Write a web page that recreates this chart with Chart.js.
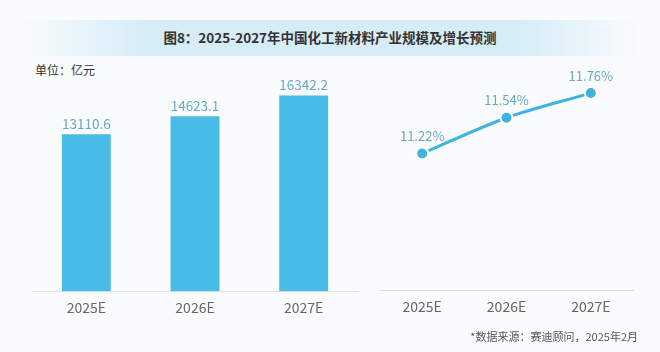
<!DOCTYPE html>
<html>
<head>
<meta charset="utf-8">
<script src="https://cdn.jsdelivr.net/npm/chart.js@4.4.1/dist/chart.umd.min.js"></script>
<style>
    html, body { margin: 0; padding: 0; }
    body {
        width: 660px;
        height: 352px;
        position: relative;
        overflow: hidden;
        background: #f9fbfd;
        font-family: "Noto Sans CJK SC", "Noto Sans", sans-serif;
    }
    .banner {
        position: absolute;
        left: 20px; top: 20px;
        width: 620px; height: 36px;
        background: linear-gradient(90deg, rgba(210,234,246,0) 0%, #d6ecf7 20%, #d6ecf7 80%, rgba(210,234,246,0) 100%);
    }
    .title {
        position: absolute;
        left: 0; top: 19px;
        width: 660px; height: 36px;
        line-height: 36px;
        text-align: center;
        font-size: 13.5px;
        font-weight: bold;
        color: #333;
    }
    .unit {
        position: absolute;
        left: 35px; top: 61px;
        font-size: 12px;
        color: #333;
    }
    .source {
        position: absolute;
        right: 22px; top: 328px;
        font-size: 11px;
        color: #555;
    }
    #barBox { position: absolute; left: 0; top: 0; width: 370px; height: 352px; }
    #lineBox { position: absolute; left: 370px; top: 0; width: 290px; height: 352px; }
</style>
</head>
<body>
<div class="banner"></div>
<div class="title">图8：2025-2027年中国化工新材料产业规模及增长预测</div>
<div class="unit">单位：亿元</div>
<div id="barBox"><canvas id="barChart"></canvas></div>
<div id="lineBox"><canvas id="lineChart"></canvas></div>
<div class="source">*数据来源：赛迪顾问，2025年2月</div>

<script>
const years = ['2025E', '2026E', '2027E'];
const scaleValues = [13110.6, 14623.1, 16342.2];
const growthRates = [11.22, 11.54, 11.76];

const FONT = '"Noto Sans CJK SC", "Noto Sans", sans-serif';

// value labels above bars / points
const valueLabels = {
    id: 'valueLabels',
    afterDatasetsDraw(chart, args, opts) {
        const { ctx } = chart;
        const meta = chart.getDatasetMeta(0);
        const data = chart.data.datasets[0].data;
        ctx.save();
        ctx.font = opts.size + 'px ' + FONT;
        ctx.fillStyle = '#6aa8c6';
        ctx.textAlign = 'center';
        ctx.textBaseline = 'bottom';
        meta.data.forEach((el, i) => {
            ctx.fillText(data[i].toFixed(opts.digits) + (opts.suffix || ''), el.x, el.y - opts.offset);
        });
        ctx.restore();
    },
};

const xAxis = {
    offset: true,
    grid: { display: false },
    border: { display: true, color: '#dcdfe3', width: 1 },
    ticks: {
        font: { family: FONT, size: 14 },
        color: '#666',
        padding: 0,
    },
};

new Chart(document.getElementById('barChart'), {
    type: 'bar',
    data: {
        labels: years,
        datasets: [{
            data: scaleValues,
            backgroundColor: '#48bbe8',
            barPercentage: 0.45,
            categoryPercentage: 1,
        }],
    },
    options: {
        responsive: true,
        maintainAspectRatio: false,
        animation: false,
        layout: { padding: { left: 32, right: 12, top: 53, bottom: 36 } },
        plugins: {
            legend: { display: false },
            tooltip: { enabled: false },
            valueLabels: { digits: 1, offset: 4, size: 13.5 },
        },
        scales: {
            x: xAxis,
            y: { display: false, min: 0, max: 19900 },
        },
    },
    plugins: [valueLabels],
});

new Chart(document.getElementById('lineChart'), {
    type: 'line',
    data: {
        labels: years,
        datasets: [{
            data: growthRates,
            borderColor: '#3fb1e2',
            borderWidth: 3,
            tension: 0.3,
            pointRadius: 6,
            pointBackgroundColor: '#3fb1e2',
            pointBorderColor: '#fff',
            pointBorderWidth: 2,
        }],
    },
    options: {
        responsive: true,
        maintainAspectRatio: false,
        animation: false,
        layout: { padding: { left: 10, right: 27, top: 55, bottom: 37 } },
        plugins: {
            legend: { display: false },
            tooltip: { enabled: false },
            valueLabels: { digits: 2, suffix: '%', offset: 11, size: 13 },
        },
        scales: {
            x: xAxis,
            y: { display: false, min: 10.0, max: 12.1 },
        },
    },
    plugins: [valueLabels],
});
</script>
</body>
</html>
